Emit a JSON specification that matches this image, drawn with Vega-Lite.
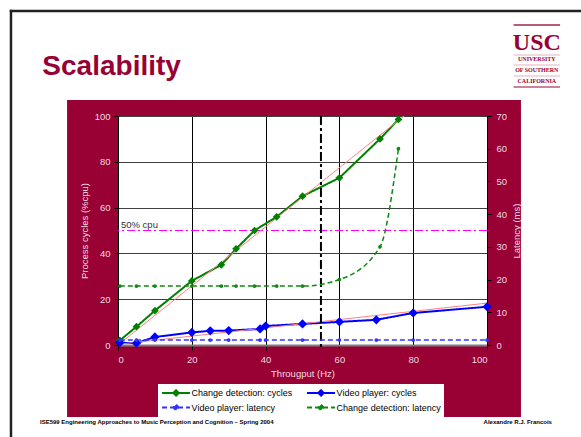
{
  "$schema": "https://vega.github.io/schema/vega-lite/v6.json",
  "width": 369,
  "height": 229,
  "autosize": {"type": "none"},
  "padding": {"left": 118, "top": 116, "right": 94, "bottom": 92},
  "background": "#990033",
  "datasets": {
    "cycles": [
      {"series": "Change detection: cycles", "hz": 0.5, "value": 2},
      {"series": "Change detection: cycles", "hz": 5, "value": 8},
      {"series": "Change detection: cycles", "hz": 10, "value": 15},
      {"series": "Change detection: cycles", "hz": 20, "value": 28},
      {"series": "Change detection: cycles", "hz": 28, "value": 35},
      {"series": "Change detection: cycles", "hz": 32, "value": 42},
      {"series": "Change detection: cycles", "hz": 37, "value": 50},
      {"series": "Change detection: cycles", "hz": 43, "value": 56},
      {"series": "Change detection: cycles", "hz": 50, "value": 65},
      {"series": "Change detection: cycles", "hz": 60, "value": 73},
      {"series": "Change detection: cycles", "hz": 71, "value": 90},
      {"series": "Change detection: cycles", "hz": 76, "value": 98.5},
      {"series": "Video player: cycles", "hz": 0.5, "value": 1},
      {"series": "Video player: cycles", "hz": 5, "value": 0.8},
      {"series": "Video player: cycles", "hz": 10, "value": 3.5},
      {"series": "Video player: cycles", "hz": 20, "value": 5.5},
      {"series": "Video player: cycles", "hz": 25, "value": 6.2},
      {"series": "Video player: cycles", "hz": 30, "value": 6.3},
      {"series": "Video player: cycles", "hz": 38.5, "value": 7},
      {"series": "Video player: cycles", "hz": 40, "value": 8.3},
      {"series": "Video player: cycles", "hz": 50, "value": 9.2},
      {"series": "Video player: cycles", "hz": 60, "value": 10.1},
      {"series": "Video player: cycles", "hz": 70, "value": 11},
      {"series": "Video player: cycles", "hz": 80, "value": 14},
      {"series": "Video player: cycles", "hz": 100, "value": 16.7}
    ],
    "latency": [
      {"series": "Video player: latency", "hz": 0.5, "value": 1.5},
      {"series": "Video player: latency", "hz": 5, "value": 1.5},
      {"series": "Video player: latency", "hz": 10, "value": 1.5},
      {"series": "Video player: latency", "hz": 20, "value": 1.5},
      {"series": "Video player: latency", "hz": 25, "value": 1.5},
      {"series": "Video player: latency", "hz": 30, "value": 1.5},
      {"series": "Video player: latency", "hz": 38.5, "value": 1.5},
      {"series": "Video player: latency", "hz": 40, "value": 1.5},
      {"series": "Video player: latency", "hz": 50, "value": 1.5},
      {"series": "Video player: latency", "hz": 60, "value": 1.5},
      {"series": "Video player: latency", "hz": 70, "value": 1.5},
      {"series": "Video player: latency", "hz": 80, "value": 1.5},
      {"series": "Video player: latency", "hz": 100, "value": 1.5},
      {"series": "Change detection: latency", "hz": 0.5, "value": 18},
      {"series": "Change detection: latency", "hz": 5, "value": 18},
      {"series": "Change detection: latency", "hz": 10, "value": 18},
      {"series": "Change detection: latency", "hz": 20, "value": 18},
      {"series": "Change detection: latency", "hz": 28, "value": 18},
      {"series": "Change detection: latency", "hz": 32, "value": 18},
      {"series": "Change detection: latency", "hz": 37, "value": 18},
      {"series": "Change detection: latency", "hz": 43, "value": 18},
      {"series": "Change detection: latency", "hz": 50, "value": 18},
      {"series": "Change detection: latency", "hz": 60, "value": 20},
      {"series": "Change detection: latency", "hz": 71, "value": 30},
      {"series": "Change detection: latency", "hz": 76, "value": 60}
    ],
    "trend": [
      {"fit": "Change detection", "hz": 0, "value": 0},
      {"fit": "Change detection", "hz": 77.5, "value": 100},
      {"fit": "Video player", "hz": 0, "value": 0.3},
      {"fit": "Video player", "hz": 100, "value": 18.3}
    ]
  },
  "config": {
    "font": "Liberation Sans",
    "view": {"fill": "white", "stroke": "#404040", "strokeWidth": 1},
    "axis": {
      "labelFont": "Liberation Sans",
      "labelFontSize": 9.5,
      "labelColor": "#f3dbe2",
      "titleFont": "Liberation Sans",
      "titleFontSize": 9.5,
      "titleFontWeight": "normal",
      "titleColor": "#f3dbe2",
      "tickColor": "#000000",
      "tickSize": 4,
      "domainColor": "#000000",
      "labelPadding": 4,
      "titlePadding": 5
    },
    "axisX": {"grid": true, "gridColor": "#000000", "domainColor": "#7f7f7f", "domainWidth": 2, "tickSize": 5}
  },
  "resolve": {"scale": {"y": "independent"}},
  "layer": [
    {
      "layer": [
        {
          "data": {"values": [{}]},
          "mark": {"type": "rect", "color": "white"},
          "encoding": {
            "x": {"datum": -40, "type": "quantitative", "scale": {"domain": [0, 100], "nice": false}},
            "x2": {"datum": 130},
            "y": {"datum": 107, "type": "quantitative", "scale": {"domain": [0, 100], "nice": false}},
            "y2": {"datum": 160}
          }
        },
        {
          "data": {"values": [{}]},
          "mark": {"type": "rect", "color": "white"},
          "encoding": {
            "x": {"datum": -40, "type": "quantitative", "scale": {"domain": [0, 100], "nice": false}},
            "x2": {"datum": 130},
            "y": {"datum": -31.4, "type": "quantitative", "scale": {"domain": [0, 100], "nice": false}},
            "y2": {"datum": -50}
          }
        },
        {
          "data": {"values": [{}]},
          "mark": {"type": "rect", "color": "white"},
          "encoding": {
            "x": {"datum": -40, "type": "quantitative", "scale": {"domain": [0, 100], "nice": false}},
            "x2": {"datum": -13.8},
            "y": {"datum": -50, "type": "quantitative", "scale": {"domain": [0, 100], "nice": false}},
            "y2": {"datum": 160}
          }
        },
        {
          "data": {"values": [{}]},
          "mark": {"type": "rect", "color": "white"},
          "encoding": {
            "x": {"datum": 109.2, "type": "quantitative", "scale": {"domain": [0, 100], "nice": false}},
            "x2": {"datum": 130},
            "y": {"datum": -50, "type": "quantitative", "scale": {"domain": [0, 100], "nice": false}},
            "y2": {"datum": 160}
          }
        },
        {
          "data": {"values": [{}]},
          "mark": {"type": "rule", "color": "#222222", "strokeWidth": 2.5, "strokeCap": "square"},
          "encoding": {
            "x": {"datum": -29, "type": "quantitative", "scale": {"domain": [0, 100], "nice": false}},
            "x2": {"datum": 130},
            "y": {"datum": 145.85, "type": "quantitative", "scale": {"domain": [0, 100], "nice": false}}
          }
        },
        {
          "data": {"values": [{}]},
          "mark": {"type": "rule", "color": "#222222", "strokeWidth": 2.5, "strokeCap": "square"},
          "encoding": {
            "x": {"datum": -29, "type": "quantitative", "scale": {"domain": [0, 100], "nice": false}},
            "y": {"datum": 145.85, "type": "quantitative", "scale": {"domain": [0, 100], "nice": false}},
            "y2": {"datum": -50}
          }
        },
        {
          "data": {"values": [{}]},
          "mark": {"type": "text", "text": "Scalability", "font": "Liberation Sans", "fontSize": 28, "fontWeight": "bold", "color": "#990033", "align": "left", "baseline": "alphabetic"},
          "encoding": {
            "x": {"datum": -20.5, "type": "quantitative", "scale": {"domain": [0, 100], "nice": false}},
            "y": {"datum": 117.9, "type": "quantitative", "scale": {"domain": [0, 100], "nice": false}}
          }
        },
        {
          "data": {"values": [{}]},
          "mark": {"type": "text", "text": "USC", "font": "Liberation Serif", "fontSize": 24, "fontWeight": "bold", "color": "#990033", "align": "center", "baseline": "alphabetic"},
          "encoding": {
            "x": {"datum": 113.5, "type": "quantitative", "scale": {"domain": [0, 100], "nice": false}},
            "y": {"datum": 128.8, "type": "quantitative", "scale": {"domain": [0, 100], "nice": false}}
          }
        },
        {
          "data": {"values": [{}]},
          "mark": {"type": "text", "text": "UNIVERSITY", "font": "Liberation Serif", "fontSize": 6, "fontWeight": "bold", "color": "#990033", "align": "center", "baseline": "alphabetic"},
          "encoding": {
            "x": {"datum": 113.5, "type": "quantitative", "scale": {"domain": [0, 100], "nice": false}},
            "y": {"datum": 123.8, "type": "quantitative", "scale": {"domain": [0, 100], "nice": false}}
          }
        },
        {
          "data": {"values": [{}]},
          "mark": {"type": "text", "text": "OF SOUTHERN", "font": "Liberation Serif", "fontSize": 6, "fontWeight": "bold", "color": "#990033", "align": "center", "baseline": "alphabetic"},
          "encoding": {
            "x": {"datum": 113.5, "type": "quantitative", "scale": {"domain": [0, 100], "nice": false}},
            "y": {"datum": 119.43, "type": "quantitative", "scale": {"domain": [0, 100], "nice": false}}
          }
        },
        {
          "data": {"values": [{}]},
          "mark": {"type": "text", "text": "CALIFORNIA", "font": "Liberation Serif", "fontSize": 6, "fontWeight": "bold", "color": "#990033", "align": "center", "baseline": "alphabetic"},
          "encoding": {
            "x": {"datum": 113.5, "type": "quantitative", "scale": {"domain": [0, 100], "nice": false}},
            "y": {"datum": 114.41, "type": "quantitative", "scale": {"domain": [0, 100], "nice": false}}
          }
        },
        {
          "data": {"values": [{}]},
          "mark": {"type": "rule", "color": "#b85a78", "strokeWidth": 2},
          "encoding": {
            "x": {"datum": 107.2, "type": "quantitative", "scale": {"domain": [0, 100], "nice": false}},
            "x2": {"datum": 119.8},
            "y": {"datum": 139.74, "type": "quantitative", "scale": {"domain": [0, 100], "nice": false}}
          }
        },
        {
          "data": {"values": [{}]},
          "mark": {"type": "rule", "color": "#e2b3c2", "strokeWidth": 1.2},
          "encoding": {
            "x": {"datum": 107.2, "type": "quantitative", "scale": {"domain": [0, 100], "nice": false}},
            "x2": {"datum": 119.8},
            "y": {"datum": 126.64, "type": "quantitative", "scale": {"domain": [0, 100], "nice": false}}
          }
        },
        {
          "data": {"values": [{}]},
          "mark": {"type": "rule", "color": "#e2b3c2", "strokeWidth": 1.2},
          "encoding": {
            "x": {"datum": 107.2, "type": "quantitative", "scale": {"domain": [0, 100], "nice": false}},
            "x2": {"datum": 119.8},
            "y": {"datum": 122.27, "type": "quantitative", "scale": {"domain": [0, 100], "nice": false}}
          }
        },
        {
          "data": {"values": [{}]},
          "mark": {"type": "rule", "color": "#e2b3c2", "strokeWidth": 1.2},
          "encoding": {
            "x": {"datum": 107.2, "type": "quantitative", "scale": {"domain": [0, 100], "nice": false}},
            "x2": {"datum": 119.8},
            "y": {"datum": 117.47, "type": "quantitative", "scale": {"domain": [0, 100], "nice": false}}
          }
        },
        {
          "data": {"values": [{}]},
          "mark": {"type": "rule", "color": "#c7849a", "strokeWidth": 2},
          "encoding": {
            "x": {"datum": 107.2, "type": "quantitative", "scale": {"domain": [0, 100], "nice": false}},
            "x2": {"datum": 119.8},
            "y": {"datum": 112.66, "type": "quantitative", "scale": {"domain": [0, 100], "nice": false}}
          }
        },
        {
          "data": {"values": [{}]},
          "mark": {"type": "text", "text": "ISE599 Engineering Approaches to Music Perception and Cognition – Spring 2004", "font": "Liberation Sans", "fontSize": 6, "fontWeight": "bold", "color": "#000000", "align": "left", "baseline": "alphabetic"},
          "encoding": {
            "x": {"datum": -21.14, "type": "quantitative", "scale": {"domain": [0, 100], "nice": false}},
            "y": {"datum": -34.5, "type": "quantitative", "scale": {"domain": [0, 100], "nice": false}}
          }
        },
        {
          "data": {"values": [{}]},
          "mark": {"type": "text", "text": "Alexandre R.J. Francois", "font": "Liberation Sans", "fontSize": 6, "fontWeight": "bold", "color": "#000000", "align": "right", "baseline": "alphabetic"},
          "encoding": {
            "x": {"datum": 117.6, "type": "quantitative", "scale": {"domain": [0, 100], "nice": false}},
            "y": {"datum": -34.5, "type": "quantitative", "scale": {"domain": [0, 100], "nice": false}}
          }
        },
        {
          "data": {"values": [{}]},
          "mark": {"type": "rule", "color": "#ff00ff", "strokeWidth": 1, "strokeDash": [8, 3, 2, 3]},
          "encoding": {
            "y": {"datum": 50, "type": "quantitative", "scale": {"domain": [0, 100], "nice": false}}
          }
        },
        {
          "data": {"name": "cycles"},
          "mark": {"type": "line", "strokeWidth": 2},
          "encoding": {
            "x": {"field": "hz", "type": "quantitative", "scale": {"domain": [0, 100], "nice": false},
              "axis": {"values": [0, 20, 40, 60, 80, 100], "title": "Througput (Hz)", "orient": "bottom"}},
            "y": {"field": "value", "type": "quantitative", "scale": {"domain": [0, 100], "nice": false},
              "axis": {"orient": "left", "values": [0, 20, 40, 60, 80, 100], "grid": true, "gridColor": "#404040", "title": "Process cycles (%cpu)"}},
            "color": {
              "field": "series", "type": "nominal",
              "scale": {
                "domain": ["Change detection: cycles", "Video player: cycles", "Video player: latency", "Change detection: latency"],
                "range": ["#008000", "#0000ff", "#3333ff", "#118811"]
              },
              "legend": {
                "title": null,
                "orient": "none",
                "direction": "horizontal",
                "legendX": 40,
                "legendY": 268,
                "columns": 2,
                "fillColor": "white",
                "padding": 3,
                "columnPadding": 10,
                "rowPadding": 0,
                "labelFont": "Liberation Sans",
                "labelFontSize": 9,
                "labelColor": "#000000",
                "labelOffset": 19.6,
                "symbolType": "M-1,0L5.26,0M2.13,-0.6L2.73,0L2.13,0.6L1.53,0Z",
                "symbolSize": 80,
                "symbolStrokeWidth": 2
              }
            },
            "strokeDash": {
              "field": "series", "type": "nominal",
              "scale": {
                "domain": ["Change detection: cycles", "Video player: cycles", "Video player: latency", "Change detection: latency"],
                "range": [[1, 0], [1, 0], [5, 3], [5, 3]]
              },
              "legend": {"title": null}
            }
          }
        },
        {
          "data": {"name": "trend"},
          "mark": {"type": "line", "color": "#ff8080", "strokeWidth": 1},
          "encoding": {
            "x": {"field": "hz", "type": "quantitative", "scale": {"domain": [0, 100], "nice": false}},
            "y": {"field": "value", "type": "quantitative", "scale": {"domain": [0, 100], "nice": false}},
            "detail": {"field": "fit", "type": "nominal"}
          }
        },
        {
          "data": {"name": "cycles"},
          "transform": [{"filter": "datum.series === 'Change detection: cycles'"}],
          "mark": {"type": "point", "shape": "diamond", "filled": true, "opacity": 1, "size": 60},
          "encoding": {
            "x": {"field": "hz", "type": "quantitative", "scale": {"domain": [0, 100], "nice": false}},
            "y": {"field": "value", "type": "quantitative", "scale": {"domain": [0, 100], "nice": false}},
            "color": {"field": "series", "type": "nominal"}
          }
        },
        {
          "data": {"name": "cycles"},
          "transform": [{"filter": "datum.series === 'Video player: cycles'"}],
          "mark": {"type": "point", "shape": "diamond", "filled": true, "opacity": 1, "size": 85},
          "encoding": {
            "x": {"field": "hz", "type": "quantitative", "scale": {"domain": [0, 100], "nice": false}},
            "y": {"field": "value", "type": "quantitative", "scale": {"domain": [0, 100], "nice": false}},
            "color": {"field": "series", "type": "nominal"}
          }
        },
        {
          "data": {"values": [{}]},
          "mark": {"type": "rule", "color": "#000000", "strokeWidth": 2, "strokeDash": [9, 3, 3, 3]},
          "encoding": {
            "x": {"datum": 55, "type": "quantitative", "scale": {"domain": [0, 100], "nice": false}},
            "y": {"datum": 100, "type": "quantitative", "scale": {"domain": [0, 100], "nice": false}},
            "y2": {"datum": -2.2}
          }
        },
        {
          "data": {"values": [{}]},
          "mark": {"type": "text", "text": "50% cpu", "font": "Liberation Sans", "fontSize": 9.5, "color": "#333333", "align": "left", "baseline": "alphabetic", "dy": -3},
          "encoding": {
            "x": {"datum": 0.8, "type": "quantitative", "scale": {"domain": [0, 100], "nice": false}},
            "y": {"datum": 50, "type": "quantitative", "scale": {"domain": [0, 100], "nice": false}}
          }
        }
      ]
    },
    {
      "data": {"name": "latency"},
      "encoding": {
        "x": {"field": "hz", "type": "quantitative", "scale": {"domain": [0, 100], "nice": false}},
        "y": {"field": "value", "type": "quantitative", "scale": {"domain": [0, 70], "nice": false},
          "axis": {"orient": "right", "values": [0, 10, 20, 30, 40, 50, 60, 70], "grid": false, "title": "Latency (ms)", "titleAngle": 270, "titleBaseline": "top", "titlePadding": 5, "labelPadding": 5}},
        "color": {"field": "series", "type": "nominal"}
      },
      "layer": [
        {
          "mark": {"type": "line", "strokeWidth": 1.5, "interpolate": "monotone"},
          "encoding": {"strokeDash": {"field": "series", "type": "nominal"}}
        },
        {"mark": {"type": "circle", "size": 14, "opacity": 1}}
      ]
    }
  ]
}
